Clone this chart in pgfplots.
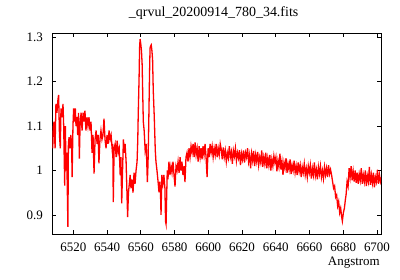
\documentclass[border=0pt]{standalone}
\usepackage{pgfplots}
\pgfplotsset{compat=1.18}
\usepackage{fontspec}
\setmainfont{Liberation Serif}

\begin{document}
\begin{tikzpicture}
\path[use as bounding box] (-52.3bp,-46bp) rectangle (347.7bp,234bp);
\begin{axis}[
    scale only axis,
    width=328.7bp, height=200.7bp,
    xmin=6507.55, xmax=6702.4,
    ymin=0.857, ymax=1.309,
    xtick={6520,6540,...,6700},
    ytick={0.9,1,1.1,1.2,1.3},
    tick align=inside,
    major tick length=4bp,
    minor tick num=0,
    axis line style={line width=0.8bp},
    every tick/.style={black, line width=0.8bp},
    font=\fontsize{13pt}{15pt}\selectfont,
    /pgf/number format/1000 sep={},
    /pgf/number format/assume math mode=true,
    yticklabel style={xshift=-6bp},
    xticklabel style={yshift=-5bp},
    title={\_qrvul\_20200914\_780\_34.fits},
    title style={at={(0.5,1)}, anchor=base, xshift=-3bp, yshift=10.8bp,
        font=\fontsize{14pt}{16pt}\selectfont},
    xlabel={Angstrom},
    xlabel style={at={(1,0)}, anchor=base east, xshift=2.3bp, yshift=-31bp},
]
\addplot[color=red, line width=1.3bp, sharp plot, mark=none] coordinates {
(6507.5,1.09) (6507.8,1.05) (6508.2,1.10) (6508.6,1.11) (6509.2,1.05)
(6509.7,1.15) (6510.3,1.13) (6510.9,1.16) (6511.3,1.17) (6511.8,1.08)
(6512.3,1.05) (6512.7,1.14) (6513.3,1.12) (6513.9,1.15) (6514.3,1.10)
(6514.6,1.03) (6514.9,0.966) (6515.3,1.10) (6515.7,1.00) (6516.1,1.04)
(6516.8,0.873) (6517.1,1.06) (6517.5,1.075) (6518.1,1.05) (6518.5,1.08)
(6519.0,1.06) (6519.3,0.985) (6519.8,1.10) (6520.2,1.14) (6520.7,1.11)
(6521.2,1.14) (6521.6,1.10) (6522.2,1.12) (6522.6,1.08) (6523.1,1.13)
(6523.6,1.027) (6524.0,1.10) (6524.6,1.13) (6525.2,1.09) (6525.8,1.13)
(6526.4,1.11) (6526.9,1.135) (6527.5,1.09) (6528.1,1.12) (6528.7,1.10)
(6529.3,1.12) (6529.9,1.09) (6530.5,1.11) (6531.1,1.04) (6531.7,1.08)
(6532.3,0.993) (6532.9,1.07) (6533.5,1.09) (6534.1,1.06) (6534.7,1.08)
(6535.2,1.016) (6535.8,1.07) (6536.4,1.09) (6537.0,1.07) (6537.6,1.08)
(6538.2,1.117) (6538.8,1.07) (6539.4,1.05) (6540.0,1.08) (6540.6,1.06)
(6541.2,1.09) (6541.8,1.07) (6542.4,1.08) (6543.0,1.05) (6543.4,1.06)
(6543.7,0.929) (6544.2,1.05) (6544.8,1.06) (6545.4,1.03) (6546.0,1.067)
(6546.6,1.04) (6547.2,1.05) (6547.8,0.989) (6548.2,1.03) (6548.7,0.926)
(6549.2,1.00) (6549.7,1.07) (6550.2,1.04) (6550.7,1.06) (6551.3,1.02)
(6551.8,0.95) (6552.2,0.895) (6552.7,0.95) (6553.2,0.97) (6553.7,0.99)
(6554.2,0.96) (6554.8,0.98) (6555.4,0.95) (6556.0,0.995) (6556.6,0.97)
(6557.2,1.00) (6557.8,1.02) (6558.2,1.067) (6558.5,1.128) (6559.0,1.21)
(6559.3,1.277) (6559.6,1.296) (6560.0,1.285) (6560.4,1.27) (6560.8,1.24)
(6561.2,1.164) (6561.5,1.11) (6562.0,1.09) (6562.6,1.045) (6563.2,1.06)
(6563.9,0.974) (6564.3,1.016) (6564.7,1.10) (6565.2,1.22) (6565.5,1.276)
(6565.9,1.281) (6566.2,1.283) (6566.6,1.27) (6567.0,1.25) (6567.4,1.18)
(6568.0,1.12) (6568.6,1.045) (6569.0,1.02) (6569.6,1.00) (6570.2,0.977)
(6570.8,0.951) (6571.3,0.975) (6571.7,0.948) (6572.0,0.90) (6572.5,0.99)
(6573.1,0.97) (6573.7,0.99) (6574.3,0.96) (6574.7,0.885) (6575.0,0.879)
(6575.4,0.95) (6575.7,1.00) (6576.1,0.98) (6576.7,1.02) (6577.3,0.99)
(6577.9,1.01) (6578.5,0.995) (6579.1,1.02) (6579.7,0.99) (6580.3,0.964)
(6580.9,1.01) (6581.5,1.00) (6582.1,1.02) (6582.7,0.995) (6583.3,1.03)
(6583.8,1.00) (6584.4,1.02) (6585.0,0.99) (6585.6,1.01) (6586.2,0.974)
(6586.8,1.03) (6587.4,1.04) (6588.0,1.02) (6588.6,1.05) (6589.2,1.03)
(6589.8,1.055) (6590.4,1.04) (6591.0,1.06) (6591.6,1.03) (6592.2,1.063)
(6592.8,1.035) (6593.4,1.05) (6594.0,1.02) (6594.6,1.055) (6595.2,1.03)
(6595.8,1.05) (6596.3,1.025) (6596.9,1.055) (6597.5,1.035) (6598.1,1.06)
(6598.7,1.03) (6599.3,0.985) (6599.9,1.05) (6600.5,1.03) (6601.1,1.06)
(6601.7,1.04) (6602.3,1.055) (6602.9,1.03) (6603.5,1.05) (6604.1,1.035)
(6604.7,1.06) (6605.3,1.03) (6605.9,1.05) (6606.5,1.035) (6607.1,1.06)
(6607.7,1.048) (6608.3,1.025) (6608.9,1.052) (6609.5,1.030) (6610.1,1.045)
(6610.7,1.020) (6611.3,1.040) (6611.9,1.028) (6612.5,1.055) (6613.1,1.030)
(6613.7,1.042) (6614.3,1.015) (6614.9,1.045) (6615.5,1.032) (6616.1,1.050)
(6616.7,1.022) (6617.3,1.040) (6617.9,1.028) (6618.5,1.046) (6619.1,1.012)
(6619.7,1.038) (6620.3,1.025) (6620.9,1.045) (6621.5,1.018) (6622.1,1.040)
(6622.7,1.030) (6623.3,1.050) (6623.9,1.020) (6624.5,1.035) (6625.1,1.005)
(6625.7,1.038) (6626.3,1.022) (6626.9,1.044) (6627.5,1.010) (6628.1,1.035)
(6628.7,1.020) (6629.3,1.042) (6629.9,1.012) (6630.5,1.030) (6631.1,1.018)
(6631.7,1.045) (6632.3,1.008) (6632.9,1.030) (6633.5,1.015) (6634.1,1.040)
(6634.7,1.005) (6635.3,1.028) (6635.9,1.012) (6636.5,1.035) (6637.1,1.000)
(6637.7,1.025) (6638.3,1.010) (6638.9,1.033) (6639.5,1.018) (6640.1,1.030)
(6640.7,0.998) (6641.3,1.022) (6641.9,1.008) (6642.5,1.038) (6643.1,1.002)
(6643.7,1.020) (6644.3,0.990) (6644.9,1.018) (6645.5,1.005) (6646.1,1.028)
(6646.7,0.995) (6647.3,1.015) (6647.9,1.002) (6648.5,1.025) (6649.1,0.992)
(6649.7,1.012) (6650.3,1.000) (6650.9,1.022) (6651.5,0.995) (6652.1,1.010)
(6652.7,0.990) (6653.3,1.018) (6653.9,0.998) (6654.5,1.012) (6655.1,0.985)
(6655.7,1.008) (6656.3,0.995) (6656.9,1.015) (6657.5,0.990) (6658.1,1.005)
(6658.7,0.985) (6659.3,1.010) (6659.9,0.995) (6660.5,1.012) (6661.1,0.982)
(6661.7,1.005) (6662.3,0.990) (6662.9,1.018) (6663.5,0.988) (6664.1,1.002)
(6664.7,0.980) (6665.3,1.008) (6665.9,0.992) (6666.5,1.010) (6667.1,0.985)
(6667.7,1.000) (6668.3,0.982) (6668.9,1.008) (6669.5,0.990) (6670.1,1.005)
(6670.7,0.985) (6671.3,1.012) (6671.9,0.992) (6672.5,1.002) (6673.1,0.990)
(6673.7,0.975) (6674.3,0.960) (6674.9,0.965) (6675.5,0.940) (6676.1,0.945)
(6676.7,0.920) (6677.3,0.930) (6677.9,0.905) (6678.5,0.915) (6679.1,0.895)
(6679.5,0.886) (6680.1,0.905) (6680.7,0.915) (6681.3,0.935) (6681.7,0.945)
(6682.3,0.975) (6682.9,0.965) (6683.5,1.005) (6684.1,0.985) (6684.7,1.010)
(6685.3,0.978) (6685.9,0.998) (6686.5,0.975) (6687.1,1.000) (6687.7,0.972)
(6688.3,0.995) (6688.9,0.970) (6689.5,0.992) (6690.1,0.978) (6690.7,1.005)
(6691.3,0.970) (6691.9,0.990) (6692.5,0.975) (6693.1,1.000) (6693.7,0.965)
(6694.3,0.988) (6694.9,0.975) (6695.5,1.008) (6696.1,0.968) (6696.7,0.990)
(6697.3,0.972) (6697.9,0.995) (6698.5,0.962) (6699.1,0.985) (6699.7,0.975)
(6700.3,1.002) (6700.9,0.970) (6701.5,0.990) (6702.1,0.975) (6702.7,0.985)
};
\end{axis}
\end{tikzpicture}
\end{document}
